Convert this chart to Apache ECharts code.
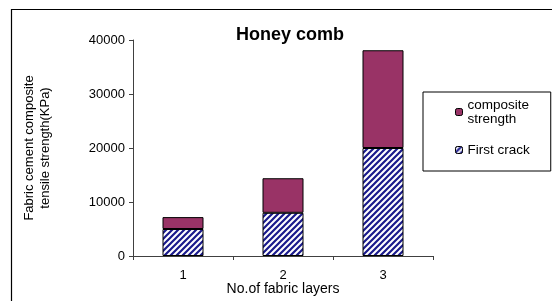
<!DOCTYPE html>
<html>
<head>
<meta charset="utf-8">
<script src="https://cdn.jsdelivr.net/npm/echarts@6/dist/echarts.min.js"></script>
<style>
  html, body { margin: 0; padding: 0; background: #fff; }
  #chart { width: 552px; height: 301px; }
</style>
</head>
<body>
<div id="chart"></div>
<script>
// data
var layers = ['1', '2', '3'];
var firstCrack = [5000, 8000, 20000];
// part of the stacked bar above first crack (total minus first crack)
var compositeStrength = [2200, 6400, 18100];
var yTicks = [0, 10000, 20000, 30000, 40000];

// diagonal blue/white hatch like the excel fill
function makeHatch() {
  var c = document.createElement('canvas');
  c.width = 6;
  c.height = 6;
  var ctx = c.getContext('2d');
  ctx.fillStyle = '#ffffff';
  ctx.fillRect(0, 0, 6, 6);
  ctx.strokeStyle = '#1a1a8c';
  ctx.lineWidth = 2.2;
  ctx.beginPath();
  ctx.moveTo(-3, 9); ctx.lineTo(9, -3);
  ctx.moveTo(-6, 6); ctx.lineTo(6, -6);
  ctx.moveTo(0, 12); ctx.lineTo(12, 0);
  ctx.stroke();
  return c;
}
var hatch = { image: makeHatch(), repeat: 'repeat' };

var font = 'Liberation Sans, Arial';
var chart = echarts.init(document.getElementById('chart'));

var option = {
  backgroundColor: '#ffffff',
  animation: false,
  title: {
    text: 'Honey comb',
    left: 285,
    top: 21,
    textAlign: 'center',
    textStyle: { fontFamily: font, fontSize: 18, fontWeight: 'bold', color: '#000' }
  },
  graphic: [
    {
      // outer frame of the chart area
      type: 'rect',
      shape: { x: 11.5, y: 9.5, width: 560, height: 320 },
      style: { fill: 'none', stroke: '#000', lineWidth: 1.2 },
      z: -1
    }
  ],
  legend: {
    left: 423,
    top: 92,
    orient: 'vertical',
    padding: [6, 21, 14, 32],
    itemGap: 17,
    itemWidth: 7,
    itemHeight: 7,
    borderColor: '#000',
    borderWidth: 1,
    data: ['composite\nstrength', 'First crack'],
    textStyle: { fontFamily: font, fontSize: 13.5, color: '#000', lineHeight: 14 },
    itemStyle: { borderColor: '#000', borderWidth: 1 }
  },
  grid: { left: 133, right: 119, top: 40, bottom: 45, containLabel: false, outerBoundsMode: 'none' },
  xAxis: {
    type: 'category',
    data: layers,
    name: 'No.of fabric layers',
    nameLocation: 'middle',
    nameGap: 26,
    nameMoveOverlap: false,
    nameTextStyle: { fontFamily: font, fontSize: 14, color: '#000' },
    axisLine: { lineStyle: { color: '#404040', width: 1 } },
    axisTick: { show: true, length: 4, inside: false, lineStyle: { color: '#404040' } },
    axisLabel: { margin: 13, fontFamily: font, fontSize: 13, color: '#000' }
  },
  yAxis: {
    type: 'value',
    min: yTicks[0],
    max: yTicks[yTicks.length - 1],
    interval: yTicks[1] - yTicks[0],
    name: 'Fabric cement composite\ntensile strength(KPa)',
    nameLocation: 'middle',
    nameGap: 80,
    nameRotate: 90,
    nameMoveOverlap: false,
    nameTextStyle: { fontFamily: font, fontSize: 13, color: '#000', lineHeight: 16 },
    axisLine: { show: true, lineStyle: { color: '#404040', width: 1 } },
    axisTick: { show: true, length: 4, inside: false, lineStyle: { color: '#404040' } },
    axisLabel: {
      margin: 8, fontFamily: font, fontSize: 13, color: '#000',
      formatter: function (v) { return String(v); }
    },
    splitLine: { show: false }
  },
  series: [
    {
      name: 'First crack',
      type: 'bar',
      stack: 'total',
      barWidth: 41,
      data: firstCrack,
      itemStyle: { color: hatch, borderColor: '#000', borderWidth: 1 }
    },
    {
      name: 'composite\nstrength',
      type: 'bar',
      stack: 'total',
      barWidth: 41,
      data: compositeStrength,
      itemStyle: { color: '#993366', borderColor: '#000', borderWidth: 1 }
    }
  ]
};

chart.setOption(option);
</script>
</body>
</html>
